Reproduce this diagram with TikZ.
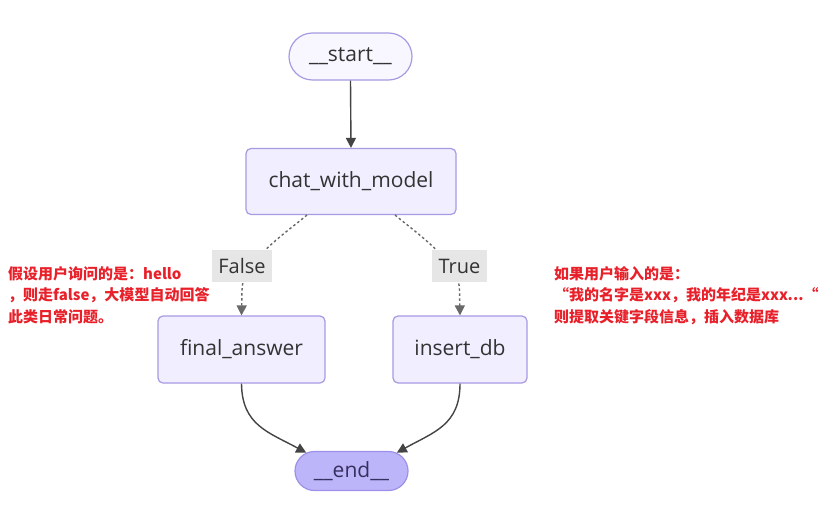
\documentclass[tikz,border=0pt]{standalone}
\usepackage{fontspec}
\setmainfont{Open Sans}
\newfontfamily\cjk{Noto Sans CJK SC}
\usetikzlibrary{arrows.meta,shapes.misc}
\definecolor{nodefill}{HTML}{F0EEFF}
\definecolor{nodeline}{HTML}{A89AE2}
\definecolor{startfill}{HTML}{F8F6FF}
\definecolor{endfill}{HTML}{BDB5FA}
\definecolor{endline}{HTML}{9D90E8}
\definecolor{txt}{HTML}{333333}
\definecolor{endtxt}{HTML}{35315E}
\definecolor{edgecol}{HTML}{444444}
\definecolor{lblfill}{HTML}{E6E6E6}
\definecolor{redtxt}{HTML}{E8202A}
\tikzset{
  pill/.style={rounded rectangle, draw=nodeline, line width=1.2pt, text=txt,
    font=\fontsize{21}{24}\selectfont, inner sep=0pt},
  box/.style={rectangle, rounded corners=5pt, draw=nodeline, line width=1.2pt,
    fill=nodefill, text=txt, font=\fontsize{21}{24}\selectfont, inner sep=0pt},
  lbl/.style={rectangle, fill=lblfill, text=txt, font=\fontsize{20}{24}\selectfont,
    inner sep=0pt},
  edge/.style={draw=edgecol, line width=1.4pt, -{Triangle[length=10pt,width=10pt]}},
  dedge/.style={draw=edgecol!80, line width=1.4pt, dash pattern=on 2.5pt off 2.5pt,
    -{Triangle[length=10pt,width=10pt]}},
  note/.style={text=redtxt, font=\cjk\bfseries\fontsize{15}{21.5}\selectfont,
    align=left, inner sep=0pt, anchor=north west},
}
\begin{document}
\begin{tikzpicture}[x=1pt,y=-1pt]
\useasboundingbox (0,0) rectangle (827,519);
\fill[white] (0,0) rectangle (827,519);

\node[pill, fill=startfill, minimum width=123pt, minimum height=47pt] (start) at (350.5,56.5) {\_\_start\_\_};
\node[box, minimum width=210pt, minimum height=66pt] (chat) at (351,181.5) {chat\_with\_model};
\node[box, minimum width=167pt, minimum height=67pt] (final) at (241.5,349.5) {final\_answer};
\node[box, minimum width=134pt, minimum height=67pt] (insert) at (460,349.5) {insert\_db};
\node[pill, fill=endfill, draw=endline, text=endtxt, minimum width=113pt, minimum height=39pt] (end) at (351.5,471) {\_\_end\_\_};

\coordinate (cl) at (307,215);
\coordinate (cr) at (395,215);
\draw[edge] (start.south) -- (chat.north);
\draw[dedge] (cl) .. controls (287,232) and (242,262) .. (242,290) -- (final.north);
\draw[dedge] (cr) .. controls (415,232) and (459.5,262) .. (459.5,290) -- (insert.north);
\node[lbl, minimum width=60pt, minimum height=32pt] (lf) at (242,266) {False};
\node[lbl, minimum width=55pt, minimum height=32pt] (lt) at (459.5,266) {True};

\draw[edge] (final.south) .. controls (242,425) and (268,432) .. (end.158);
\draw[edge] (insert.south) .. controls (460,425) and (434,432) .. (end.22);

\node[note] (nl) at (8,266) {假设用户询问的是：hello\\，则走false，大模型自动回答\\此类日常问题。};
\node[note] (nr) at (554,266) {如果用户输入的是：\\“我的名字是xxx，我的年纪是xxx...“\\则提取关键字段信息，插入数据库};
\end{tikzpicture}
\end{document}
